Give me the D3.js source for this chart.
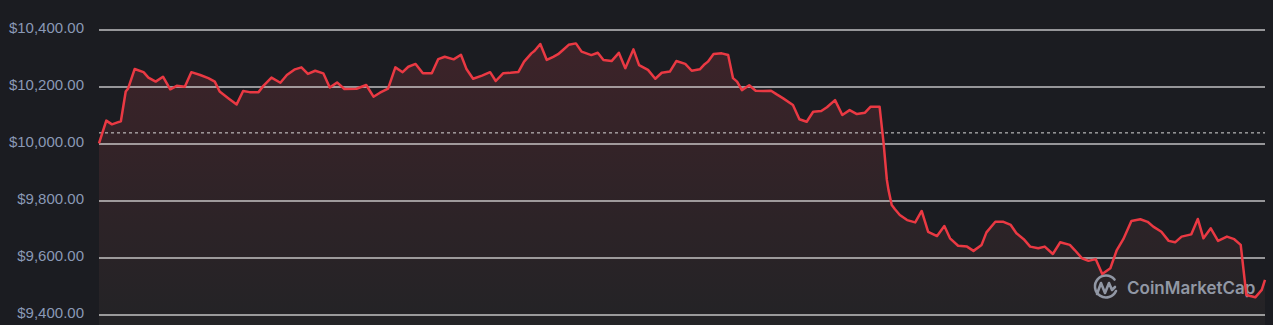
<!DOCTYPE html>
<html>
<head>
<meta charset="utf-8">
<script src="https://cdn.jsdelivr.net/npm/d3@7"></script>
<style>
  html, body { margin: 0; padding: 0; background: #1b1c21; }
  svg { display: block; }
  .tick-label { font-family: "Liberation Sans", Arial, sans-serif; font-size: 15px; fill: #8a99b6; }
  .brand { font-family: Inter, "Noto Sans", sans-serif; font-size: 17px; font-weight: 600; fill: #a4acbb; }
</style>
</head>
<body>
<svg id="chart" width="1273" height="325"></svg>
<script>
// minutes since start of the 24h window
const minutes = [
  0, 9, 16, 22, 27, 33, 36, 44, 55, 61, 70, 79, 88, 96, 106, 114, 125, 135, 143, 149,
  160, 170, 178, 186, 197, 203, 213, 224, 232, 242, 250, 258, 267, 277, 285, 294, 303, 318, 330, 339,
  347, 357, 366, 375, 382, 391, 400, 411, 419, 427, 438, 447, 454, 462, 473, 483, 490, 499, 508, 518,
  525, 534, 538, 545, 553, 561, 567, 573, 580, 589, 596, 608, 616, 623, 633, 642, 650, 660, 667, 678,
  687, 695, 705, 713, 724, 732, 742, 748, 752, 759, 769, 777, 783, 788, 794, 803, 811, 820, 830, 837,
  845, 857, 865, 874, 882, 892, 899, 909, 918, 927, 936, 946, 953, 964, 969, 973, 975, 979, 983, 989,
  998, 1008, 1016, 1024, 1035, 1044, 1051, 1061, 1072, 1080, 1090, 1096, 1107, 1117, 1126, 1133, 1142, 1150, 1160, 1168,
  1178, 1187, 1199, 1205, 1214, 1222, 1231, 1239, 1249, 1257, 1265, 1275, 1286, 1295, 1302, 1312, 1321, 1329, 1337, 1349,
  1357, 1364, 1373, 1382, 1393, 1402, 1410, 1417, 1428, 1436, 1440
];

// price in USD
const prices = [
  10002, 10082, 10069, 10075, 10080, 10184, 10195, 10263, 10252, 10233, 10219, 10236, 10192, 10204, 10201, 10252, 10242, 10231, 10219, 10184,
  10160, 10139, 10186, 10182, 10182, 10204, 10233, 10215, 10242, 10262, 10269, 10246, 10257, 10248, 10198, 10216, 10193, 10194, 10207, 10166,
  10180, 10194, 10269, 10252, 10271, 10281, 10248, 10248, 10298, 10306, 10297, 10313, 10262, 10229, 10240, 10252, 10221, 10248, 10250, 10253,
  10289, 10318, 10327, 10351, 10295, 10306, 10315, 10330, 10348, 10353, 10324, 10312, 10320, 10295, 10291, 10320, 10266, 10332, 10277, 10260,
  10229, 10250, 10254, 10291, 10281, 10257, 10262, 10280, 10289, 10316, 10318, 10312, 10231, 10219, 10189, 10206, 10187, 10186, 10187, 10174,
  10160, 10137, 10087, 10078, 10113, 10116, 10129, 10154, 10102, 10119, 10105, 10110, 10131, 10131, 10002, 9874, 9839, 9786, 9771, 9751,
  9733, 9725, 9765, 9692, 9677, 9712, 9669, 9643, 9640, 9625, 9646, 9690, 9727, 9727, 9716, 9687, 9666, 9640, 9634, 9640,
  9614, 9655, 9646, 9628, 9599, 9590, 9596, 9544, 9564, 9628, 9666, 9730, 9736, 9727, 9710, 9692, 9660, 9655, 9675, 9683,
  9737, 9669, 9704, 9660, 9675, 9666, 9646, 9470, 9462, 9488, 9523
];

const openPrice = 10039;
const yTicks = [9400, 9600, 9800, 10000, 10200, 10400];

const data = minutes.map((m, i) => ({ t: m, p: prices[i] }));

const svg = d3.select('#chart');
const W = +svg.attr('width'), H = +svg.attr('height');
const margin = { top: 30, right: 8, bottom: 10, left: 99 };

const x = d3.scaleLinear().domain([0, 1440]).range([margin.left, W - margin.right]);
const y = d3.scaleLinear().domain([9400, 10400]).range([H - margin.bottom, margin.top]);

// gradient for the area under the line
const defs = svg.append('defs');
const grad = defs.append('linearGradient')
  .attr('id', 'areaGrad')
  .attr('gradientUnits', 'userSpaceOnUse')
  .attr('x1', 0).attr('x2', 0)
  .attr('y1', y(10400)).attr('y2', H);
grad.append('stop').attr('offset', '0%').attr('stop-color', '#3e2329');
grad.append('stop').attr('offset', '100%').attr('stop-color', '#232326');

svg.append('path')
  .datum(data)
  .attr('fill', 'url(#areaGrad)')
  .attr('d', d3.area().x(d => x(d.t)).y0(H).y1(d => y(d.p)));

// grid lines
svg.append('g')
  .selectAll('line')
  .data(yTicks)
  .enter().append('line')
  .attr('x1', x(0)).attr('x2', x(1440))
  .attr('y1', d => y(d)).attr('y2', d => y(d))
  .attr('stroke', '#ffffff')
  .attr('stroke-opacity', 0.72)
  .attr('stroke-width', 1.5);

// tick labels
const fmt = d3.format('$,.2f');
svg.append('g')
  .selectAll('text')
  .data(yTicks)
  .enter().append('text')
  .attr('class', 'tick-label')
  .attr('x', 84)
  .attr('y', d => y(d) + 2.5)
  .attr('text-anchor', 'end')
  .text(d => fmt(d));

// reference (open) price
svg.append('line')
  .attr('x1', x(0)).attr('x2', x(1440))
  .attr('y1', y(openPrice)).attr('y2', y(openPrice))
  .attr('stroke', '#d8d8d8')
  .attr('stroke-width', 1)
  .attr('stroke-dasharray', '3,3');

// watermark
const brand = svg.append('g').attr('opacity', 0.85);
brand.append('path')
  .attr('d', 'M1114.5,279.5 A11,11 0 1 0 1116,291')
  .attr('fill', 'none').attr('stroke', '#a4acbb').attr('stroke-width', 2.6).attr('stroke-linecap', 'round');
brand.append('path')
  .attr('d', 'M1097,294 L1101,283 L1105,293 L1109,283 L1112,290 L1115,287')
  .attr('fill', 'none').attr('stroke', '#a4acbb').attr('stroke-width', 2.6)
  .attr('stroke-linecap', 'round').attr('stroke-linejoin', 'round');
brand.append('text')
  .attr('class', 'brand')
  .attr('x', 1127).attr('y', 294)
  .text('CoinMarketCap');

// price line
svg.append('path')
  .datum(data)
  .attr('fill', 'none')
  .attr('stroke', '#ea3943')
  .attr('stroke-width', 2.5)
  .attr('stroke-linejoin', 'round')
  .attr('d', d3.line().x(d => x(d.t)).y(d => y(d.p)));
</script>
</body>
</html>
